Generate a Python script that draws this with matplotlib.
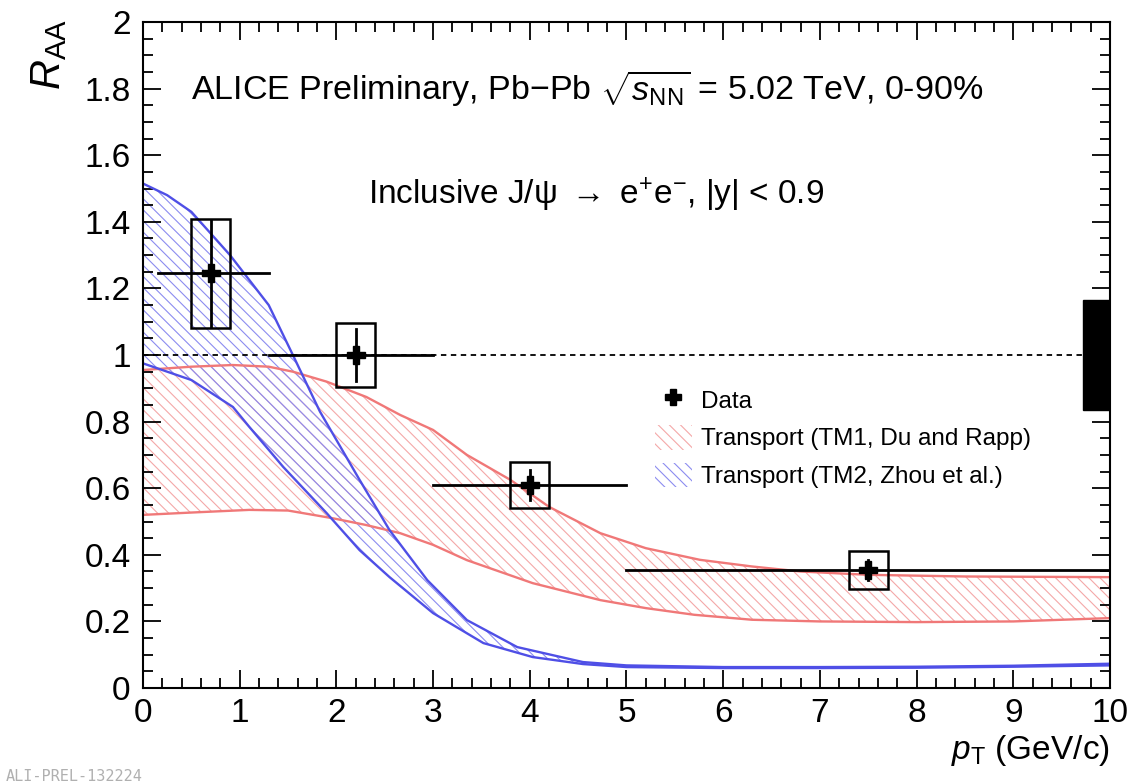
import matplotlib
matplotlib.use("Agg")
import matplotlib.pyplot as plt
from matplotlib.patches import Rectangle, Patch
from matplotlib.lines import Line2D
from matplotlib.ticker import MultipleLocator, FuncFormatter

plt.rcParams["font.family"] = ["Liberation Sans", "DejaVu Sans"]
plt.rcParams["mathtext.fontset"] = "custom"
plt.rcParams["mathtext.rm"] = "Liberation Sans"
plt.rcParams["mathtext.it"] = "Liberation Sans:italic"
plt.rcParams["hatch.linewidth"] = 0.8

# ALICE data points
pt = [0.7, 2.2, 4.0, 7.5]
raa = [1.245, 1.0, 0.61, 0.355]
pt_lo = [0.15, 1.3, 3.0, 5.0]
pt_hi = [1.3, 3.0, 5.0, 10.0]
stat = [0.16, 0.078, 0.045, 0.03]
syst = [0.163, 0.095, 0.07, 0.057]
glob_unc = 0.165

# TM1 (Du and Rapp) band
tm1_hi_x = [0, 0.5, 0.93, 1.3, 1.55, 1.9, 2.31, 2.66, 3.0, 3.35, 3.8, 4.2, 4.73, 5.2, 5.76, 6.3, 6.8, 7.5, 8.5, 10]
tm1_hi_y = [0.955, 0.965, 0.97, 0.965, 0.95, 0.92, 0.874, 0.82, 0.775, 0.70, 0.625, 0.544, 0.465, 0.42, 0.385, 0.365, 0.35, 0.34, 0.335, 0.333]
tm1_lo_x = [0, 0.5, 1.1, 1.5, 1.96, 2.3, 2.66, 3.0, 3.35, 4.03, 4.73, 5.2, 5.7, 6.3, 7, 8, 9, 10]
tm1_lo_y = [0.52, 0.527, 0.535, 0.533, 0.51, 0.49, 0.465, 0.43, 0.384, 0.315, 0.264, 0.24, 0.22, 0.205, 0.2, 0.198, 0.2, 0.21]

# TM2 (Zhou et al.) band
tm2_hi_x = [0, 0.25, 0.5, 0.9, 1.3, 1.55, 1.83, 2.05, 2.24, 2.55, 2.94, 3.35, 3.87, 4.55, 5, 6, 7, 8, 9, 10]
tm2_hi_y = [1.515, 1.48, 1.43, 1.30, 1.15, 1.00, 0.83, 0.72, 0.625, 0.474, 0.324, 0.204, 0.123, 0.078, 0.068, 0.063, 0.063, 0.064, 0.067, 0.073]
tm2_lo_x = [0, 0.5, 0.93, 1.1, 1.45, 1.9, 2.24, 2.55, 3.0, 3.52, 4.03, 4.55, 5, 6, 7, 8, 9, 10]
tm2_lo_y = [0.975, 0.925, 0.844, 0.784, 0.664, 0.525, 0.414, 0.333, 0.225, 0.135, 0.093, 0.072, 0.063, 0.06, 0.06, 0.061, 0.064, 0.068]

red_line = "#f07878"
red_hatch = "#f4a8a8"
blue_line = "#4f4fe6"
blue_hatch = "#8c8cf0"

fig = plt.figure(figsize=(11.45, 7.84), dpi=100)
ax = fig.add_axes([0.1249, 0.1224, 0.8445, 0.8495])


def band(xs_hi, ys_hi, xs_lo, ys_lo, lc, hc):
    px = list(xs_hi) + list(xs_lo)[::-1]
    py = list(ys_hi) + list(ys_lo)[::-1]
    ax.fill(px, py, facecolor="none", edgecolor=hc, hatch="\\\\\\", linewidth=0)
    ax.plot(xs_hi, ys_hi, color=lc, lw=1.7)
    ax.plot(xs_lo, ys_lo, color=lc, lw=1.7)


band(tm1_hi_x, tm1_hi_y, tm1_lo_x, tm1_lo_y, red_line, red_hatch)
band(tm2_hi_x, tm2_hi_y, tm2_lo_x, tm2_lo_y, blue_line, blue_hatch)

# unity line
ax.axhline(1.0, color="black", lw=1.3, ls=(0, (3, 2.5)))

# global uncertainty
ax.add_patch(Rectangle((9.72, 1 - glob_unc), 0.28, 2 * glob_unc,
                       facecolor="black", edgecolor="black", zorder=4))

# data
for i in range(len(pt)):
    ax.add_patch(Rectangle((pt[i] - 0.2, raa[i] - syst[i]), 0.4, 2 * syst[i],
                           facecolor="none", edgecolor="black", lw=1.8, zorder=5))
    ax.plot([pt_lo[i], pt_hi[i]], [raa[i], raa[i]], color="black", lw=2, zorder=6)
    ax.plot([pt[i], pt[i]], [raa[i] - stat[i], raa[i] + stat[i]], color="black", lw=2, zorder=6)
ax.plot(pt, raa, ls="none", marker="P", ms=13, color="black", zorder=7)

ax.set_xlim(0, 10)
ax.set_ylim(0, 2)
ax.xaxis.set_major_locator(MultipleLocator(1))
ax.xaxis.set_minor_locator(MultipleLocator(0.2))
ax.yaxis.set_major_locator(MultipleLocator(0.2))
ax.yaxis.set_minor_locator(MultipleLocator(0.05))
ax.yaxis.set_major_formatter(FuncFormatter(lambda v, _: f"{v:.1f}".rstrip("0").rstrip(".")))
ax.tick_params(which="both", direction="in", top=True, right=True, width=1.3)
ax.tick_params(which="major", length=13, labelsize=24)
ax.tick_params(which="minor", length=7)
ax.tick_params(axis="x", pad=7)
ax.tick_params(axis="y", pad=9)
for s in ax.spines.values():
    s.set_linewidth(1.5)

ax.text(0.5, 1.8, r"ALICE Preliminary, Pb$-$Pb $\sqrt{s_{\rm NN}}$ = 5.02 TeV, 0-90%",
        fontsize=24.5, va="center", ha="left")
ax.text(2.33, 1.48, r"Inclusive J/ψ $\rightarrow$ e$^{+}$e$^{-}$, |y| < 0.9",
        fontsize=24, va="center", ha="left")

fig.text(0.969, 0.02, r"$p_{\rm T}$ (GeV/c)", fontsize=24, ha="right", va="bottom")
fig.text(0.025, 0.975, r"$R_{\rm AA}$", fontsize=30, rotation=90, ha="left", va="top")
fig.text(0.005, 0.0, "ALI-PREL-132224", fontsize=11, color="#b0b0b0",
         family="DejaVu Sans Mono", ha="left", va="bottom")

handles = [
    Line2D([], [], ls="none", marker="P", ms=12, color="black"),
    Patch(facecolor="none", edgecolor=red_hatch, hatch="\\\\\\", lw=0),
    Patch(facecolor="none", edgecolor=blue_hatch, hatch="\\\\\\", lw=0),
]
labels = ["Data", "Transport (TM1, Du and Rapp)", "Transport (TM2, Zhou et al.)"]
ax.legend(handles, labels, loc="upper left", bbox_to_anchor=(0.507, 0.485),
          frameon=False, fontsize=17.5, handlelength=1.5, handleheight=1.2,
          labelspacing=0.5, handletextpad=0.4)

fig.savefig("out.png", dpi=100)
